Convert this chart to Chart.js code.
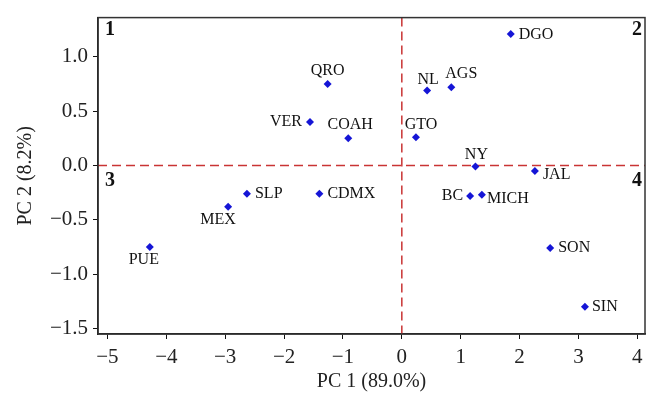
<!DOCTYPE html>
<html>
<head>
<meta charset="utf-8">
<script src="https://cdn.jsdelivr.net/npm/chart.js@4"></script>
<style>
  html, body { margin: 0; padding: 0; background: #fff; }
  #wrap { width: 660px; height: 412px; }
</style>
</head>
<body>
<div id="wrap"><canvas id="pcaChart" width="660" height="412"></canvas></div>
<script>
// Dados do gráfico (PCA por estado) //

const estados = ["DGO", "NL", "AGS", "GTO", "NY", "JAL", "BC", "MICH", "SON", "SIN",
                 "QRO", "VER", "COAH", "SLP", "CDMX", "MEX", "PUE"];
const pc1 = [1.85, 0.43, 0.84, 0.24, 1.25, 2.26, 1.16, 1.36, 2.52, 3.11,
             -1.26, -1.56, -0.91, -2.63, -1.40, -2.95, -4.28];
const pc2 = [1.21, 0.69, 0.72, 0.26, -0.01, -0.05, -0.28, -0.27, -0.76, -1.30,
             0.75, 0.40, 0.25, -0.26, -0.26, -0.38, -0.75];

const xTicks = [-5, -4, -3, -2, -1, 0, 1, 2, 3, 4];
const yTicks = [-1.5, -1.0, -0.5, 0.0, 0.5, 1.0];
const quadrantes = ["1", "2", "3", "4"];
const tituloX = "PC 1 (89.0%)";
const tituloY = "PC 2 (8.2%)";

// Posição dos rótulos em relação ao ponto: [dx, dy, alinhamento] //
const rotuloPos = [
    [8, 1, "left"], [1, -11, "center"], [10, -13, "center"], [5, -12, "center"],
    [1, -12, "center"], [8, 4, "left"], [-7, 0, "right"], [5, 4, "left"],
    [8, 0, "left"], [7, 0, "left"], [0, -13, "center"], [-8, 0, "right"],
    [2, -13, "center"], [8, 0, "left"], [8, 0, "left"], [-10, 13, "center"],
    [-6, 13, "center"]
];

const serif = "'Liberation Serif', 'DejaVu Serif', serif";
const menos = v => (v < 0 ? "\u2212" : "");

// Linhas tracejadas no zero, moldura, quadrantes e rótulos //
const extras = {
    id: "extras",
    beforeDatasetsDraw(chart) {
        const { ctx, chartArea: a, scales } = chart;
        const x0 = scales.x.getPixelForValue(0);
        const y0 = scales.y.getPixelForValue(0);
        ctx.save();
        ctx.strokeStyle = "#c93434";
        ctx.lineWidth = 1.5;
        ctx.setLineDash([9, 5]);
        ctx.beginPath();
        ctx.moveTo(a.left, y0); ctx.lineTo(a.right, y0);
        ctx.moveTo(x0, a.top); ctx.lineTo(x0, a.bottom);
        ctx.stroke();
        ctx.setLineDash([]);
        ctx.strokeStyle = "#333";
        ctx.lineWidth = 1.5;
        ctx.strokeRect(a.left, a.top, a.right - a.left, a.bottom - a.top);

        ctx.fillStyle = "#111";
        ctx.font = "bold 20px " + serif;
        ctx.textBaseline = "middle";
        ctx.textAlign = "center";
        ctx.fillText(quadrantes[0], a.left + 12, a.top + 12);
        ctx.fillText(quadrantes[1], a.right - 8, a.top + 12);
        ctx.fillText(quadrantes[2], a.left + 12, y0 + 15);
        ctx.fillText(quadrantes[3], a.right - 8, y0 + 15);
        ctx.restore();
    },
    afterDatasetsDraw(chart) {
        const { ctx } = chart;
        const meta = chart.getDatasetMeta(0);
        ctx.save();
        ctx.fillStyle = "#111";
        ctx.font = "16px " + serif;
        ctx.textBaseline = "middle";
        meta.data.forEach((p, i) => {
            const [dx, dy, al] = rotuloPos[i];
            ctx.textAlign = al;
            ctx.fillText(estados[i], p.x + dx, p.y + dy);
        });
        ctx.restore();
    }
};

const ctx = document.getElementById("pcaChart");

new Chart(ctx, {
    type: "scatter",
    data: {
        datasets: [{
            data: pc1.map((v, i) => ({ x: v, y: pc2[i] })),
            pointStyle: "rectRot",
            pointRadius: 4,
            pointHoverRadius: 4,
            backgroundColor: "#1515d6",
            borderColor: "#1515d6",
            borderWidth: 0
        }]
    },
    options: {
        responsive: false,
        animation: false,
        layout: { padding: { top: 14, right: 15, left: 0, bottom: 0 } },
        plugins: {
            legend: { display: false },
            tooltip: { enabled: false }
        },
        scales: {
            x: {
                type: "linear",
                min: -5.16,
                max: 4.13,
                afterBuildTicks: s => { s.ticks = xTicks.map(v => ({ value: v })); },
                afterFit: s => { s.height = 78; },
                grid: { drawOnChartArea: false, drawTicks: true, tickLength: 5, color: "#111" },
                border: { display: true, color: "#111", width: 1.5 },
                ticks: {
                    color: "#222",
                    padding: 6,
                    maxRotation: 0,
                    font: { family: serif, size: 21 },
                    callback: v => menos(v) + Math.abs(v)
                },
                title: {
                    display: true,
                    text: tituloX,
                    color: "#222",
                    font: { family: serif, size: 20 },
                    padding: { top: 0, bottom: 18 }
                }
            },
            y: {
                type: "linear",
                min: -1.55,
                max: 1.36,
                afterBuildTicks: s => { s.ticks = yTicks.map(v => ({ value: v })); },
                afterFit: s => { s.width = 98; },
                grid: { drawOnChartArea: false, drawTicks: true, tickLength: 5, color: "#111" },
                border: { display: true, color: "#111", width: 1.5 },
                ticks: {
                    color: "#222",
                    padding: 5,
                    font: { family: serif, size: 21 },
                    callback: v => menos(v) + Math.abs(v).toFixed(1)
                },
                title: {
                    display: true,
                    text: tituloY,
                    color: "#222",
                    font: { family: serif, size: 20 },
                    padding: { top: 14, bottom: 0 }
                }
            }
        }
    },
    plugins: [extras]
});
</script>
</body>
</html>
